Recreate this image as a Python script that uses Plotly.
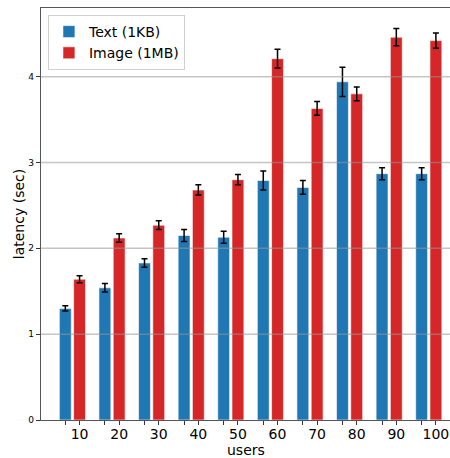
import plotly.graph_objects as go

users = ["10", "20", "30", "40", "50", "60", "70", "80", "90", "100"]
text_lat = [1.30, 1.54, 1.83, 2.15, 2.13, 2.79, 2.71, 3.94, 2.87, 2.87]
text_err = [0.03, 0.05, 0.05, 0.07, 0.07, 0.11, 0.08, 0.17, 0.07, 0.07]
image_lat = [1.64, 2.12, 2.27, 2.68, 2.80, 4.21, 3.63, 3.80, 4.46, 4.42]
image_err = [0.04, 0.05, 0.05, 0.06, 0.06, 0.11, 0.08, 0.08, 0.10, 0.09]
y_ticks = [0, 1, 2, 3, 4]

off = 0.18
bw = 0.30
xb = [i - off for i in range(len(users))]
xr = [i + off for i in range(len(users))]

fig = go.Figure()
fig.add_trace(go.Bar(
    x=xb, y=text_lat, width=bw, name="Text (1KB)",
    marker=dict(color="#1f77b4", line=dict(color="rgba(255,255,255,0.6)", width=1)),
    error_y=dict(type="data", array=text_err, color="black", thickness=1.5, width=3),
))
fig.add_trace(go.Bar(
    x=xr, y=image_lat, width=bw, name="Image (1MB)",
    marker=dict(color="#d62728", line=dict(color="rgba(255,255,255,0.6)", width=1)),
    error_y=dict(type="data", array=image_err, color="black", thickness=1.5, width=3),
))

tickvals = []
ticktext = []
for b, r, u in zip(xb, xr, users):
    tickvals += [b, r]
    ticktext += ["", u]

shapes = [dict(type="line", xref="paper", yref="y", x0=0, x1=1, y0=t, y1=t,
               line=dict(color="rgba(150,150,150,0.55)", width=1.5), layer="above")
          for t in y_ticks[1:]]

fig.update_layout(
    width=450, height=458,
    margin=dict(l=41, r=0, t=8, b=38, autoexpand=False),
    paper_bgcolor="white", plot_bgcolor="white",
    barmode="overlay",
    font=dict(family="DejaVu Sans", color="black"),
    showlegend=True,
    legend=dict(x=0.017, y=0.983, xanchor="left", yanchor="top",
                bgcolor="rgba(255,255,255,0.8)", bordercolor="#d0d0d0", borderwidth=1,
                font=dict(size=14), tracegroupgap=0),
    shapes=shapes,
    annotations=[dict(text="users", xref="paper", yref="paper", x=0.5, y=-0.073,
                      xanchor="center", yanchor="middle", showarrow=False,
                      font=dict(size=14))],
    xaxis=dict(range=[-0.794, 9.536], tickvals=tickvals, ticktext=ticktext,
               ticks="outside", ticklen=4, tickcolor="#333", tickfont=dict(size=14),
               ticklabelstandoff=-3,
               showline=True, linecolor="#555", linewidth=1.2, mirror=True,
               showgrid=False, zeroline=False, automargin=False),
    yaxis=dict(range=[0, 4.80], tickvals=y_ticks, ticks="outside", ticklen=4,
               tickcolor="#333", tickfont=dict(size=9),
               showline=True, linecolor="#555", linewidth=1.2,
               showgrid=False, zeroline=False, automargin=False,
               title=dict(text="latency (sec)", font=dict(size=14), standoff=0)),
)

fig.write_html("out.html", config={"displayModeBar": False},
               post_script="document.body.style.margin='0';document.body.style.overflow='hidden';")
